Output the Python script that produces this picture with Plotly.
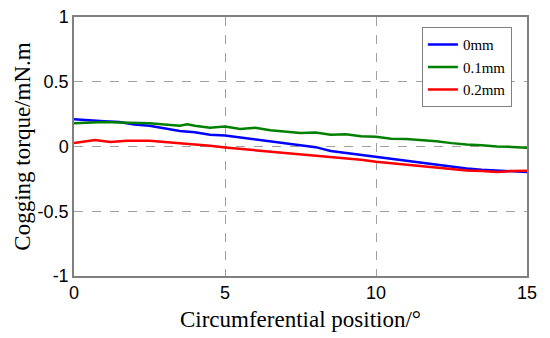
import plotly.graph_objects as go

x_blue = [0, 0.5, 1.0, 1.5, 2.0, 2.5, 3.0, 3.5, 4.0, 4.5, 5.0, 5.5, 6.0, 6.5, 7.0, 7.5, 8.0, 8.5, 9.0, 9.5, 10, 10.5, 11, 11.5, 12, 12.5, 13, 13.5, 14, 14.5, 15]
y_0mm = [0.21, 0.20, 0.195, 0.19, 0.17, 0.16, 0.14, 0.12, 0.11, 0.09, 0.085, 0.07, 0.05, 0.035, 0.02, 0.005, -0.005, -0.035, -0.05, -0.065, -0.085, -0.095, -0.115, -0.13, -0.14, -0.16, -0.17, -0.18, -0.185, -0.19, -0.197]

x_green = [0, 0.5, 1.0, 1.5, 2.0, 2.5, 3.0, 3.5, 3.75, 4.0, 4.5, 5.0, 5.5, 6.0, 6.5, 7.0, 7.5, 8.0, 8.5, 9.0, 9.5, 10, 10.5, 11, 11.5, 12, 12.5, 13, 13.5, 14, 14.5, 15]
y_01mm = [0.18, 0.185, 0.19, 0.185, 0.185, 0.18, 0.17, 0.16, 0.172, 0.16, 0.145, 0.154, 0.135, 0.145, 0.125, 0.115, 0.105, 0.108, 0.09, 0.095, 0.08, 0.075, 0.06, 0.058, 0.05, 0.04, 0.026, 0.015, 0.01, 0.0, -0.003, -0.01]

x_red = [0, 0.3, 0.7, 1.2, 1.75, 2.5, 3.0, 3.5, 4.0, 4.5, 5.0, 5.5, 6.0, 6.5, 7.0, 7.5, 8.0, 8.5, 9.0, 9.5, 10, 10.5, 11, 11.5, 12, 12.5, 13, 13.5, 14, 14.5, 15]
y_02mm = [0.026, 0.035, 0.05, 0.035, 0.044, 0.044, 0.035, 0.025, 0.015, 0.005, -0.008, -0.018, -0.03, -0.04, -0.05, -0.058, -0.068, -0.08, -0.092, -0.103, -0.118, -0.13, -0.142, -0.152, -0.162, -0.175, -0.185, -0.19, -0.197, -0.19, -0.187]

x_ticks = [0, 5, 10, 15]
y_ticks = [-1, -0.5, 0, 0.5, 1]
y_tick_labels = ["-1", "-0.5", "0", "0.5", "1"]

fig = go.Figure()
fig.add_trace(go.Scatter(x=x_blue, y=y_0mm, mode="lines", name="0mm",
                         line=dict(color="#0000ff", width=2.5)))
fig.add_trace(go.Scatter(x=x_green, y=y_01mm, mode="lines", name="0.1mm",
                         line=dict(color="#008000", width=2.5)))
fig.add_trace(go.Scatter(x=x_red, y=y_02mm, mode="lines", name="0.2mm",
                         line=dict(color="#ff0000", width=2.5)))

axis_common = dict(
    showline=True, mirror=True, linecolor="#808080", linewidth=1.5,
    showgrid=True, gridcolor="#a0a0a0", griddash="dash", gridwidth=1,
    zeroline=False, ticks="", automargin=False,
    tickfont=dict(family="Liberation Sans, Arial", size=18, color="black"),
)

fig.update_xaxes(range=[0, 15], tickvals=x_ticks, **axis_common,
                 title=dict(text="Circumferential position/°", font=dict(family="Liberation Serif, Times New Roman", size=23, color="black"), standoff=9))
fig.update_yaxes(range=[-1, 1], tickvals=y_ticks, ticktext=y_tick_labels, **axis_common,
                 title=dict(text="Cogging torque/mN.m", font=dict(family="Liberation Serif, Times New Roman", size=23, color="black"), standoff=1))

fig.update_layout(
    width=550, height=338,
    margin=dict(l=74, r=23, t=17, b=62, autoexpand=False),
    plot_bgcolor="white", paper_bgcolor="white",
    legend=dict(x=0.768, y=0.96, xanchor="left", yanchor="top",
                bgcolor="white", bordercolor="#808080", borderwidth=1,
                font=dict(family="Liberation Serif, Times New Roman", size=15, color="black")),
)

fig.write_html("out.html", config={"displayModeBar": False},
               post_script="document.body.style.margin='0';document.body.style.overflow='hidden';")
